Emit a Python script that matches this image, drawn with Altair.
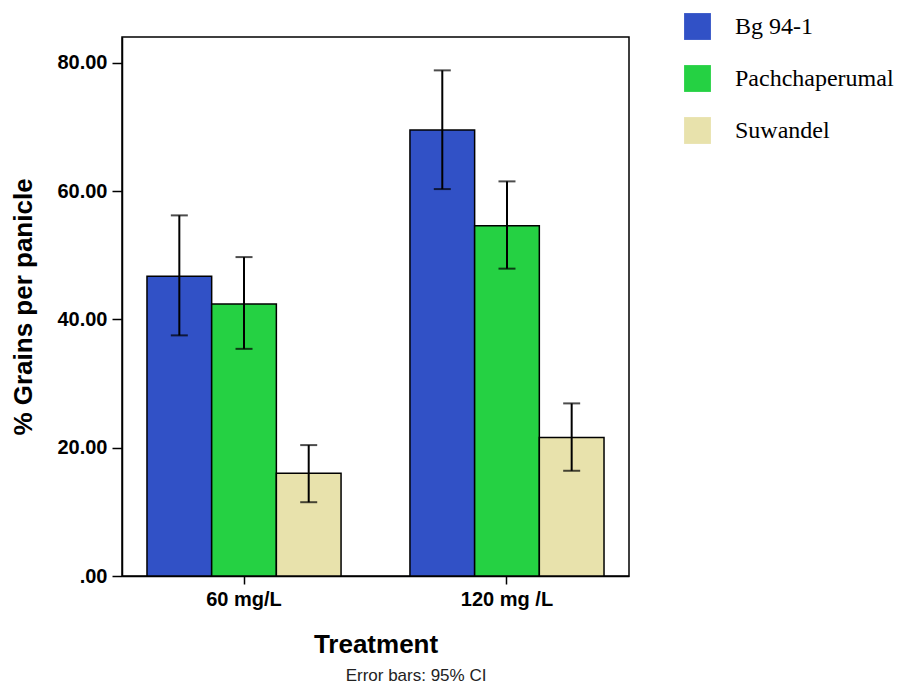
import altair as alt
import pandas as pd

treatments = ["60 mg/L", "60 mg/L", "60 mg/L", "120 mg /L", "120 mg /L", "120 mg /L"]
varieties = ["Bg 94-1", "Pachchaperumal", "Suwandel", "Bg 94-1", "Pachchaperumal", "Suwandel"]
means = [46.7, 42.4, 16.0, 69.5, 54.6, 21.6]
lower = [37.5, 35.4, 11.5, 60.3, 47.9, 16.4]
upper = [56.2, 49.7, 20.4, 78.8, 61.5, 26.9]

variety_order = ["Bg 94-1", "Pachchaperumal", "Suwandel"]
variety_colors = ["#3151C6", "#25D143", "#E8E2AC"]
treatment_order = ["60 mg/L", "120 mg /L"]
y_ticks = [0, 20, 40, 60, 80]

df = pd.DataFrame({
    "Treatment": treatments,
    "Variety": varieties,
    "Mean": means,
    "Lower": lower,
    "Upper": upper,
})

x_enc = alt.X(
    "Treatment:N",
    sort=treatment_order,
    scale=alt.Scale(paddingInner=0.262, paddingOuter=0.095),
    axis=alt.Axis(
        title="Treatment",
        labelAngle=0,
        labelFont="Liberation Sans",
        labelFontWeight="bold",
        labelFontSize=20,
        labelColor="black",
        labelPadding=5,
        labelExpr="datum.label == '120 mg /L' ? datum.label + '\u00a0\u00a0\u00a0' : datum.label",
        tickSize=8,
        tickColor="black",
        tickWidth=1.5,
        domainColor="black",
        domainWidth=1.5,
        titleFont="Liberation Sans",
        titleFontWeight="bold",
        titleFontSize=26,
        titleColor="black",
        titleBaseline="alphabetic",
        titleY=76,
    ),
)
xoff_enc = alt.XOffset(
    "Variety:N",
    sort=variety_order,
    scale=alt.Scale(paddingInner=0, paddingOuter=0),
)

bars = alt.Chart(df).mark_bar(stroke="black", strokeWidth=1.5).encode(
    x=x_enc,
    xOffset=xoff_enc,
    y=alt.Y(
        "Mean:Q",
        scale=alt.Scale(domain=[0, 84], nice=False),
        axis=alt.Axis(
            title="% Grains per panicle",
            values=y_ticks,
            grid=False,
            labelExpr="datum.value == 0 ? '.00' : format(datum.value, '.2f')",
            labelFont="Liberation Sans",
            labelFontWeight="bold",
            labelFontSize=20,
            labelColor="black",
            labelPadding=5,
            tickSize=10,
            tickColor="black",
            tickWidth=1.5,
            domainColor="black",
            domainWidth=1.5,
            titleFont="Liberation Sans",
            titleFontWeight="bold",
            titleFontSize=26,
            titleColor="black",
            titleX=-86,
            titleY=269.5,
        ),
    ),
    color=alt.Color(
        "Variety:N",
        sort=variety_order,
        scale=alt.Scale(domain=variety_order, range=variety_colors),
        legend=alt.Legend(
            title=None,
            orient="none",
            legendX=562,
            legendY=-24,
            symbolType="square",
            symbolSize=720,
            symbolStrokeWidth=0,
            symbolOpacity=1,
            labelFont="Liberation Serif",
            labelFontSize=24,
            labelColor="black",
            labelOffset=24,
            rowPadding=25,
            padding=0,
        ),
    ),
)

rules = alt.Chart(df).mark_rule(color="black", strokeWidth=2).encode(
    x=alt.X("Treatment:N", sort=treatment_order),
    xOffset=alt.XOffset("Variety:N", sort=variety_order),
    y="Lower:Q",
    y2="Upper:Q",
)

caps_hi = alt.Chart(df).mark_tick(color="black", size=17, thickness=2).encode(
    x=alt.X("Treatment:N", sort=treatment_order),
    xOffset=alt.XOffset("Variety:N", sort=variety_order),
    y="Upper:Q",
)
caps_lo = alt.Chart(df).mark_tick(color="black", size=17, thickness=2).encode(
    x=alt.X("Treatment:N", sort=treatment_order),
    xOffset=alt.XOffset("Variety:N", sort=variety_order),
    y="Lower:Q",
)

note = alt.Chart(pd.DataFrame({"t": ["Error bars: 95% CI"]})).mark_text(
    font="Liberation Sans", fontSize=17, color="#222222", baseline="alphabetic", align="center"
).encode(
    text="t:N",
    x=alt.value(294),
    y=alt.value(644),
)

chart = alt.layer(bars, rules, caps_hi, caps_lo, note).properties(
    width=507,
    height=539,
    autosize=alt.AutoSizeParams(type="none"),
    padding={"left": 114, "top": 29, "right": 270, "bottom": 108},
    background="white",
).configure_view(
    stroke="black",
    strokeWidth=1.5,
)

chart.save("out.html", embed_options={"renderer": "svg", "actions": False})
